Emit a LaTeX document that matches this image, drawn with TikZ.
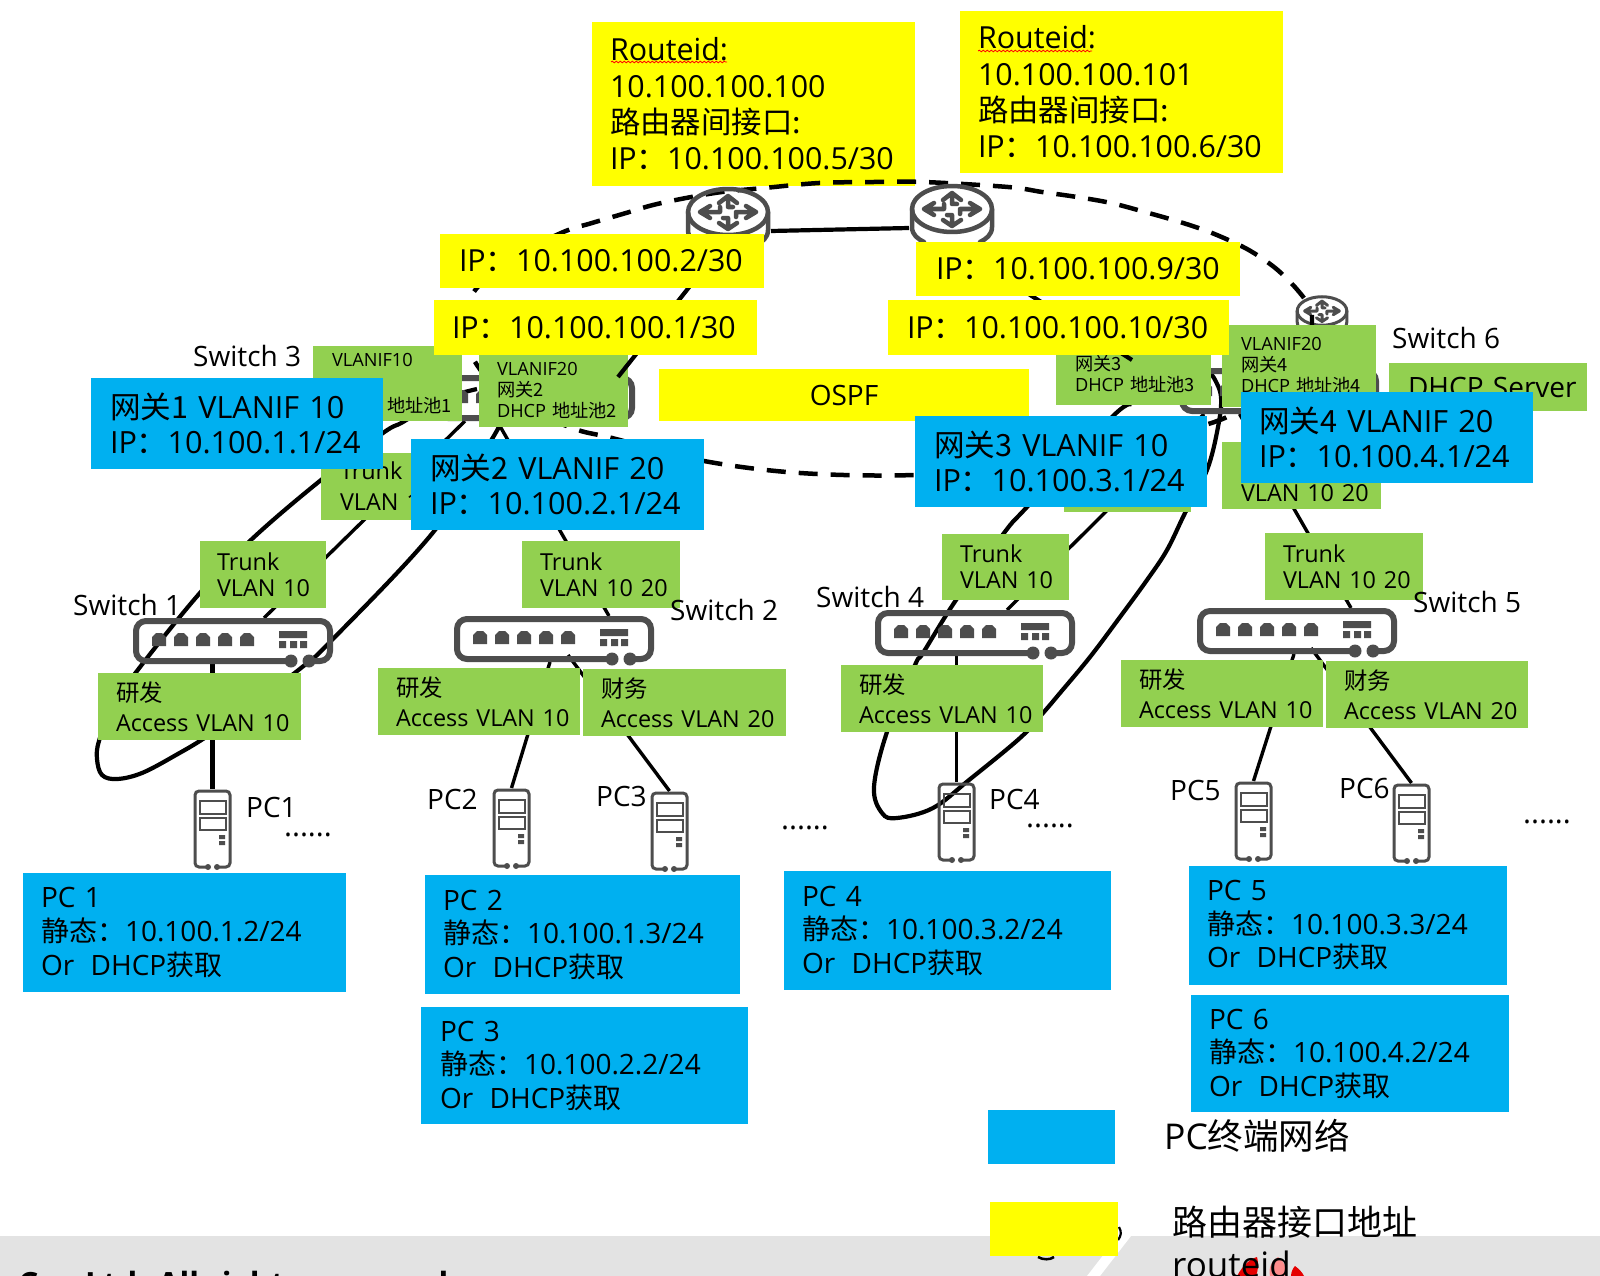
\documentclass[tikz,border=0pt]{standalone}
\usepackage{fontspec}
\setmainfont{Open Sans}
\newfontfamily\cjkfam{Noto Sans CJK SC}
\newcommand{\zh}[1]{{\cjkfam #1}}
\newcommand{\pushdn}[1]{\vspace*{#1}}
\usetikzlibrary{decorations.pathmorphing}
\definecolor{cblue}{HTML}{00B0F0}
\definecolor{cyel}{HTML}{FFFF00}
\definecolor{cgrn}{HTML}{92D050}
\definecolor{cdev}{HTML}{4D4D4D}
\definecolor{cfoot}{HTML}{E3E3E3}
\tikzset{
  ybox/.style={fill=cyel},
  bbox/.style={fill=cblue},
  gbox/.style={fill=cgrn},
  tL/.style={font=\fontsize{30.4}{36.3}\selectfont},
  tB/.style={font=\fontsize{30.6}{35}\selectfont},
  tP/.style={font=\fontsize{28}{33.5}\selectfont},
  tM/.style={font=\fontsize{23.4}{26}\selectfont},
  tS/.style={font=\fontsize{18.2}{21}\selectfont},
  lab/.style={font=\fontsize{28}{32}\selectfont,anchor=west,inner sep=0pt},
  dots/.style={font=\fontsize{30}{32}\selectfont,anchor=center,inner sep=0pt},
  link/.style={draw=black,line width=4.2pt},
  linkt/.style={draw=black,line width=3.4pt},
  ring/.style={draw=black,line width=4.5pt,dash pattern=on 19pt off 13pt},
  devnode/.style={inner sep=0pt,outer sep=0pt},
  dev/.style={draw=cdev,line width=6pt},
  pcl/.style={draw=cdev,line width=3pt},
  squig/.style={draw=red,line width=.8pt,decorate,decoration={snake,amplitude=.8pt,segment length=4pt}}
}
\newcommand{\bx}[8]{%
  \pgfmathsetmacro\bw{#5-#3}\pgfmathsetmacro\bh{#6-#4}%
  \pgfmathsetmacro\bcx{(#3+#5)/2}\pgfmathsetmacro\bcy{(#4+#6)/2}%
  \node[#2,minimum height=\bh pt,text width=\bw pt,inner xsep=0pt,inner ysep=0pt] (#1) at (\bcx,\bcy)
    {\leftskip=#7pt\rightskip=0pt plus 1fil\parindent=0pt #8\par};}
\newcommand{\switchdraw}[1]{%
  \begin{scope}[shift={(#1.north west)}]
    \draw[dev,rounded corners=10pt] (158,43) -- (3,43) -- (3,3) -- (197,3) -- (197,43) -- (176,43);
    \fill[cdev] (158,43) circle (6.5pt) (176,43) circle (6.5pt);
    \foreach \x in {19,41,63,85,107}
      \fill[cdev] (\x,28) -- (\x,19) -- (\x+4,15) -- (\x+10,15) -- (\x+14,19) -- (\x+14,28) -- cycle;
    \fill[cdev] (146,13) rectangle (174,20) (146,23) rectangle (153,30) (157,23) rectangle (164,30) (167,23) rectangle (174,30);
  \end{scope}}
\newcommand{\pcdraw}[1]{%
  \begin{scope}[shift={(#1.north west)}]
    \draw[pcl,rounded corners=4pt] (15,78) -- (2,78) -- (2,2) -- (37,2) -- (37,78) -- (24,78);
    \fill[cdev] (15,78) circle (3pt) (24,78) circle (3pt);
    \draw[cdev,line width=2.2pt] (7,12) rectangle (33,25) (7,29) rectangle (33,41);
    \fill[cdev] (26,46) rectangle (32,50) (26,52) rectangle (32,56);
  \end{scope}}
\newcommand{\routerdraw}[3]{%
  \begin{scope}[shift={(#1.center)},scale=#2,line cap=round,line join=round]
    \draw[cdev,line width=#3] (0,0) ellipse [x radius=40,y radius=23];
    \draw[cdev,line width=#3] (-40,0) -- (-40,18) .. controls (-40,26) and (-34,30) .. (-28,33)
      (40,0) -- (40,18) .. controls (40,26) and (34,30) .. (28,33);
    \draw[cdev,line width=#3]
      (-18,-6) -- (-28,0) -- (-18,6) (-28,0) -- (-8,0) -- (-8,-5)
      (18,-6) -- (28,0) -- (18,6) (28,0) -- (8,0) -- (8,5)
      (-9,-9) -- (0,-16) -- (9,-9) (0,-16) -- (0,-5) -- (5,-5)
      (-9,11) -- (0,17) -- (9,11) (0,17) -- (0,6) -- (-5,6);
  \end{scope}}
\begin{document}
\begin{tikzpicture}[x=1pt,y=-1pt]
\useasboundingbox (0,0) rectangle (1600,1276);
\fill[white] (0,0) rectangle (1600,1276);
% footer band
\fill[cfoot] (0,1236) rectangle (1600,1276);
\fill[white] (1087,1276) -- (1100,1276) -- (1131,1236) -- (1118,1236) -- cycle;
\begin{scope}
  \clip (0,0) rectangle (1600,1276);
  \node[font=\bfseries\fontsize{32}{36}\selectfont,anchor=base west,inner sep=0pt] (foot) at (18,1295) {Co., Ltd. All rights reserved};
  \fill[red!90!black] (1237,1276) .. controls (1243,1265) and (1250,1259) .. (1257,1257) .. controls (1259,1265) and (1258,1270) .. (1256,1276) -- cycle;
  \fill[red!45!white] (1270,1276) .. controls (1268,1268) and (1272,1260) .. (1278,1257) .. controls (1284,1260) and (1287,1268) .. (1285,1276) -- cycle;
  \fill[red!90!black] (1291,1276) .. controls (1291,1272) and (1293,1268) .. (1295,1266) .. controls (1299,1269) and (1302,1272) .. (1304,1276) -- cycle;
\end{scope}
\draw[black,line width=2.5pt] (1038,1257) .. controls (1043,1260) and (1050,1260) .. (1054,1257);
\draw[black,line width=2.2pt] (1119,1227) .. controls (1122,1232) and (1121,1236) .. (1118,1240);
% top yellow boxes (the ring runs over them)
\bx{yr1}{ybox,tL}{592}{22}{915}{186}{18}{Routeid:\\10.100.100.100\\\zh{路由器间接口:}\\IP\zh{：}10.100.100.5/30}
\bx{yr2}{ybox,tL}{960}{11}{1283}{173}{18}{Routeid:\\10.100.100.101\\\zh{路由器间接口:}\\IP\zh{：}10.100.100.6/30}
\draw[squig] (611,62) -- (727,62);
\draw[squig] (978,51) -- (1092,51);
% device anchors
\node[devnode,minimum width=86pt,minimum height=50pt] (r1) at (728,212) {};
\node[devnode,minimum width=86pt,minimum height=50pt] (r2) at (952,209) {};
\node[devnode,minimum width=52pt,minimum height=26pt] (r3) at (1322,311) {};
\foreach \n/\x/\y in {sw1/133/618,sw2/454/616,sw3/435/375,sw4/875/610,sw5/1197/608,sw6/1179/368}
  \node[devnode,anchor=north west,minimum width=200pt,minimum height=46pt] (\n) at (\x,\y) {};
\foreach \n/\x/\y in {pc1/193/789,pc2/492/788,pc3/650/791,pc4/937/782,pc5/1234/781,pc6/1392/783}
  \node[devnode,anchor=north west,minimum width=39pt,minimum height=80pt] (\n) at (\x,\y) {};
% ring
\draw[ring] plot[smooth,tension=.55] coordinates {(1304,298) (1293,285) (1274,267) (1247,249) (1212,233) (1180,222) (1145,212) (1111,203) (1077,197) (1042,192) (1008,187) (924,182) (874,182) (819,183) (764,188) (722,192) (686,198) (653,205) (626,213) (592,223) (561,233) (505,262) (473,293) (460,325) (477,365) (510,400) (572,428) (612,438) (704,461) (800,473) (915,475) (1060,465) (1205,425) (1233,413)};
% connectors
\draw[link] ([yshift=-19pt]r1.east) -- ([yshift=-19pt]r2.west);
\draw[link] plot[smooth,tension=.6] coordinates {(477,389) (440,400) (403,422) (383,433) (321,480) (252,539) (199,594) (137,671) (112,708) (99,741) (97,759) (102,775) (117,779) (142,773) (176,755) (209,735) (262,697) (301,668) (331,641) (435,530) (492,439) (499,425)};
\draw[link] plot[smooth,tension=.6] coordinates {(1132,405) (1113,416) (1027,507) (1004,533) (956,600) (923,653) (915,665) (887,732) (874,787) (882,813) (897,818) (933,808) (969,780) (1020,738) (1043,713) (1060,693) (1090,657) (1120,617) (1147,580) (1167,550) (1185,513) (1207,470) (1218,427) (1221,397) (1214,378) (1208,372)};
\draw[linkt] ([xshift=-70pt]sw3.south) -- ([xshift=31pt]sw1.north);
\draw[linkt] ([xshift=-38pt]sw3.south) -- ([xshift=55pt]sw2.north);
\draw[linkt] ([xshift=-75pt]sw6.south) -- ([xshift=32pt]sw4.north);
\draw[linkt] ([xshift=-39.5pt]sw6.south) -- ([xshift=54pt]sw5.north);
\draw[link] (pc1.north |- sw1.south) -- (pc1.north);
\draw[linkt] ([xshift=-4pt]sw2.south) -- (pc2.north);
\draw[linkt] ([shift={(14pt,7pt)}]sw2.south) -- (pc3.north);
\draw[linkt] (pc4.north |- sw4.south) -- (pc4.north);
\draw[linkt] ([xshift=-3pt]sw5.south) -- (pc5.north);
\draw[linkt] ([shift={(14pt,6pt)}]sw5.south) -- (pc6.north);
% devices
\routerdraw{r1}{1}{4.5pt}
\routerdraw{r2}{1}{4.5pt}
\routerdraw{r3}{.62}{3pt}
\foreach \n in {sw1,sw2,sw3,sw4,sw5,sw6} {\switchdraw{\n}}
\foreach \n in {pc1,pc2,pc3,pc4,pc5,pc6} {\pcdraw{\n}}
\draw[link] ([shift={(-10pt,-4pt)}]r3.center) -- ([shift={(33.5pt,2pt)}]sw6.north);
% green boxes
\bx{g10}{gbox,tS}{313}{346}{462}{421}{19}{\pushdn{4pt}VLANIF10\\\mbox{}\\DHCP \zh{地址池1}}
\bx{g20}{gbox,tS}{479}{355}{628}{427}{18}{VLANIF20\\\zh{网关2}\\DHCP \zh{地址池2}}
\bx{g30}{gbox,tS}{1056}{321}{1211}{405}{19}{\pushdn{16pt}\mbox{}\\\zh{网关3}\\DHCP \zh{地址池3}}
\bx{g40}{gbox,tS}{1222}{325}{1376}{407}{19}{VLANIF20\\\zh{网关4}\\DHCP \zh{地址池4}}
\bx{dhcp}{gbox,tP}{1389}{363}{1587}{411}{19}{DHCP Server}
\bx{t3}{gbox,tM}{321}{453}{440}{520}{19}{\pushdn{5pt}Trunk\\VLAN 10}
\bx{t6a}{gbox,tM}{1064}{446}{1191}{512}{19}{\mbox{}}
\bx{t6b}{gbox,tM}{1222}{442}{1381}{509}{19}{\pushdn{26pt}\mbox{}\\VLAN 10 20}
\bx{t1}{gbox,tM}{200}{541}{326}{608}{17}{Trunk\\VLAN 10}
\bx{t2}{gbox,tM}{522}{541}{680}{608}{18}{Trunk\\VLAN 10 20}
\bx{t4}{gbox,tM}{942}{534}{1069}{600}{18}{Trunk\\VLAN 10}
\bx{t5}{gbox,tM}{1265}{533}{1423}{600}{18}{Trunk\\VLAN 10 20}
\bx{a1}{gbox,tM}{98}{673}{301}{740}{18}{\pushdn{4pt}\zh{研发}\\Access VLAN 10}
\bx{a2}{gbox,tM}{378}{668}{580}{735}{18}{\pushdn{4pt}\zh{研发}\\Access VLAN 10}
\bx{a3}{gbox,tM}{583}{669}{786}{736}{18}{\pushdn{4pt}\zh{财务}\\Access VLAN 20}
\bx{a4}{gbox,tM}{841}{665}{1043}{732}{18}{\pushdn{4pt}\zh{研发}\\Access VLAN 10}
\bx{a5}{gbox,tM}{1121}{660}{1323}{727}{18}{\pushdn{4pt}\zh{研发}\\Access VLAN 10}
\bx{a6}{gbox,tM}{1326}{661}{1528}{728}{18}{\pushdn{4pt}\zh{财务}\\Access VLAN 20}
% connectors that lie over the green
\draw[link] ([yshift=-26pt]r1.center) -- ([shift={(83pt,-2pt)}]sw3.north);
\draw[link] ([shift={(3pt,-38pt)}]r2.center) -- ([shift={(-47pt,8pt)}]sw6.north west);
% yellow
\bx{y3}{ybox,tL}{440}{234}{764}{288}{19}{IP\zh{：}10.100.100.2/30}
\bx{y4}{ybox,tL}{434}{300}{757}{355}{18}{IP\zh{：}10.100.100.1/30}
\bx{y5}{ybox,tL}{916}{242}{1240}{296}{20}{IP\zh{：}10.100.100.9/30}
\bx{y6}{ybox,tL}{888}{300}{1229}{355}{19}{IP\zh{：}10.100.100.10/30}
\node[ybox,tP,inner sep=0pt,minimum width=370pt,minimum height=52pt] (ospf) at (844,395) {OSPF};
% blue
\bx{b1}{bbox,tB}{91}{378}{383}{469}{19}{\zh{网关1} VLANIF 10\\IP\zh{：}10.100.1.1/24}
\bx{b2}{bbox,tB}{411}{439}{704}{530}{19}{\zh{网关2} VLANIF 20\\IP\zh{：}10.100.2.1/24}
\bx{b3}{bbox,tB}{915}{416}{1207}{507}{19}{\zh{网关3} VLANIF 10\\IP\zh{：}10.100.3.1/24}
\bx{b4}{bbox,tB}{1241}{392}{1533}{483}{18}{\zh{网关4} VLANIF 20\\IP\zh{：}10.100.4.1/24}
\bx{p1}{bbox,tP}{23}{873}{346}{992}{18}{PC 1\\\zh{静态：}10.100.1.2/24\\Or\hspace{16.5pt}DHCP\zh{获取}}
\bx{p2}{bbox,tP}{425}{875}{740}{994}{18}{PC 2\\\zh{静态：}10.100.1.3/24\\Or\hspace{16.5pt}DHCP\zh{获取}}
\bx{p3}{bbox,tP}{421}{1007}{748}{1124}{19}{PC 3\\\zh{静态：}10.100.2.2/24\\Or\hspace{16.5pt}DHCP\zh{获取}}
\bx{p4}{bbox,tP}{784}{871}{1111}{990}{18}{PC 4\\\zh{静态：}10.100.3.2/24\\Or\hspace{16.5pt}DHCP\zh{获取}}
\bx{p5}{bbox,tP}{1189}{866}{1507}{985}{18}{PC 5\\\zh{静态：}10.100.3.3/24\\Or\hspace{16.5pt}DHCP\zh{获取}}
\bx{p6}{bbox,tP}{1191}{995}{1509}{1112}{18}{PC 6\\\zh{静态：}10.100.4.2/24\\Or\hspace{16.5pt}DHCP\zh{获取}}
% labels
\node[lab] (ls3) at (193,356) {Switch 3};
\node[lab] (ls1) at (73,605) {Switch 1};
\node[lab] (ls2) at (670,610) {Switch 2};
\node[lab] (ls4) at (816,597) {Switch 4};
\node[lab] (ls5) at (1413,602) {Switch 5};
\node[lab] (ls6) at (1392,338) {Switch 6};
\node[lab] (lp1) at (246,807) {PC1};
\node[lab] (lp2) at (427,799) {PC2};
\node[lab] (lp3) at (596,796) {PC3};
\node[lab] (lp4) at (989,799) {PC4};
\node[lab] (lp5) at (1170,790) {PC5};
\node[lab] (lp6) at (1339,788) {PC6};
\node[dots] (d1) at (308,835) {......};
\node[dots] (d2) at (805,828) {......};
\node[dots] (d3) at (1050,826) {......};
\node[dots] (d4) at (1547,822) {......};
% legend
\fill[cblue] (988,1110) rectangle (1115,1164);
\fill[cyel] (990,1202) rectangle (1118,1256);
\node[font=\fontsize{35.5}{40}\selectfont,anchor=west,inner sep=0pt] (leg1) at (1164,1136) {PC\zh{终端网络}};
\node[font=\fontsize{35}{40}\selectfont,anchor=west,inner sep=0pt] (leg2) at (1172,1222) {\zh{路由器接口地址}};
\begin{scope}
  \clip (0,0) rectangle (1600,1276);
  \node[font=\fontsize{35}{40}\selectfont,anchor=base west,inner sep=0pt] (leg3) at (1172,1277) {routeid};
\end{scope}
\end{tikzpicture}
\end{document}
